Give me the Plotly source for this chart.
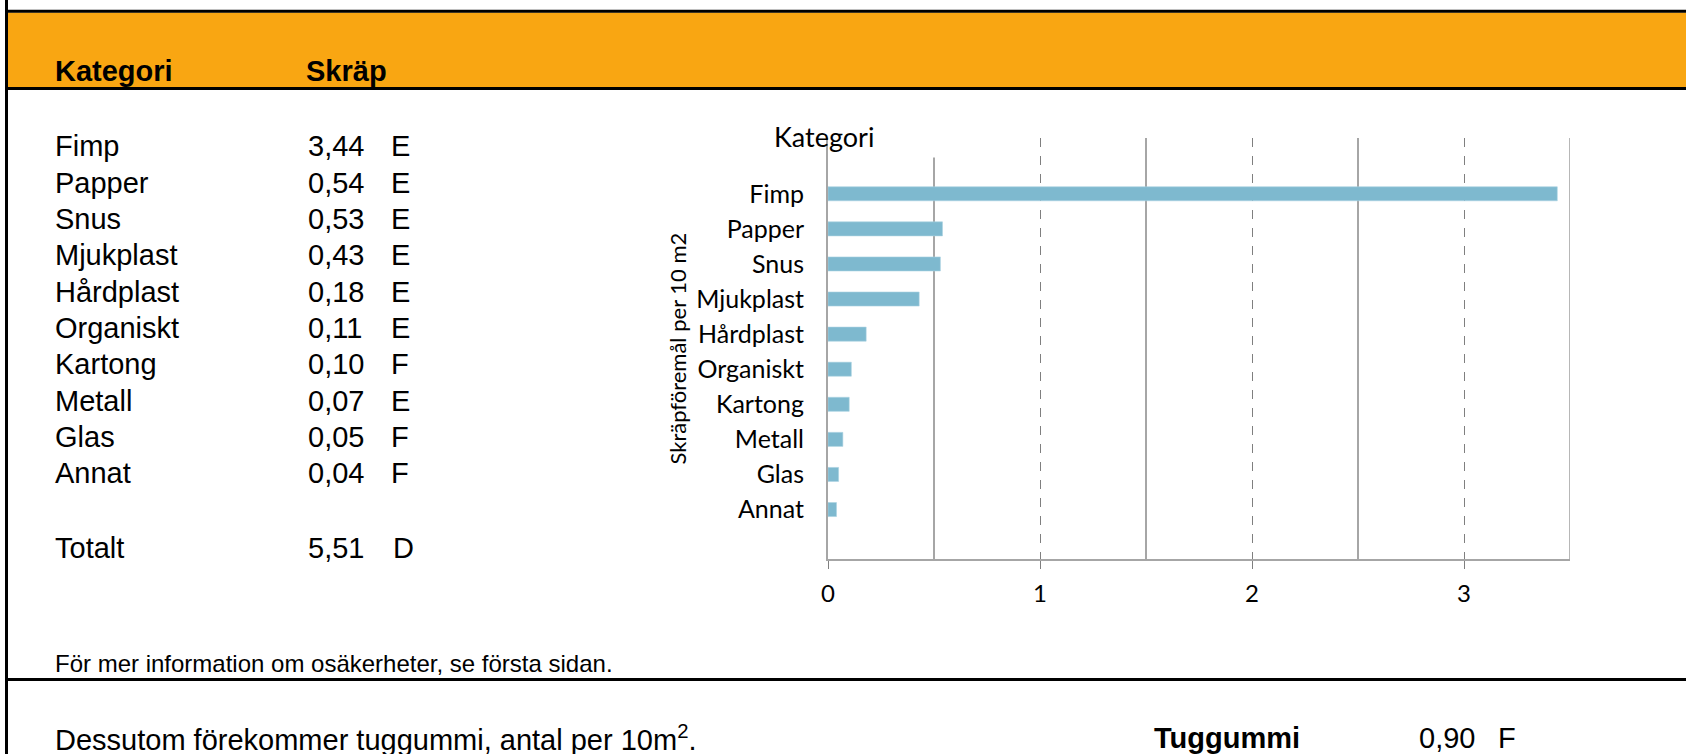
import plotly.graph_objects as go

# ---- data ----
categories = ["Fimp", "Papper", "Snus", "Mjukplast", "Hårdplast", "Organiskt",
              "Kartong", "Metall", "Glas", "Annat"]
values = [3.44, 0.54, 0.53, 0.43, 0.18, 0.11, 0.10, 0.07, 0.05, 0.04]
grades = ["E", "E", "E", "E", "E", "E", "F", "E", "F", "F"]
total_label = "Totalt"
total_value = 5.51
total_grade = "D"
gum_label = "Tuggummi"
gum_value = 0.90
gum_grade = "F"
x_ticks = [0, 1, 2, 3]
minor_ticks = [0.5, 1.5, 2.5, 3.5]

header_cat = "Kategori"
header_val = "Skräp"
chart_title = "Kategori"
y_title = "Skräpföremål per 10 m2"
footnote = "För mer information om osäkerheter, se första sidan."
gum_text = "Dessutom förekommer tuggummi, antal per 10m<sup>2</sup>."


def fmt(v):
    return f"{v:.2f}".replace(".", ",")


# ---- geometry (pixels) ----
W, H = 1686, 754
L, R, T, B = 828, 1570, 138, 559


def px(x):
    return (x - L) / (R - L)


def py(y):
    return (B - y) / (B - T)


ARIAL = "Liberation Sans, Arial, sans-serif"
CHART_FONT = "Lato, Carlito, Calibri, sans-serif"
GRAY = "#A6A6A6"
DGRAY = "#7F7F7F"
ORANGE = "#F9A612"
BAR = "#7EB9CF"

fig = go.Figure()
fig.add_trace(go.Bar(
    y=categories, x=values, orientation="h", width=0.4,
    marker=dict(color=BAR, line=dict(color="#A9D2E0", width=0.6)),
    hoverinfo="x+y",
))

fig.update_layout(
    width=W, height=H, autosize=False,
    margin=dict(l=L, r=W - R, t=T, b=H - B, pad=0),
    paper_bgcolor="white", plot_bgcolor="white",
    showlegend=False,
    font=dict(family=CHART_FONT, color="#000000", size=24),
    bargap=0.6,
)

fig.update_xaxes(
    range=[0, 3.5], tickmode="array", tickvals=x_ticks,
    ticktext=[str(v) for v in x_ticks],
    showgrid=True, gridcolor=DGRAY, griddash="dash", gridwidth=1.3,
    showline=True, linecolor=GRAY, linewidth=2,
    ticks="outside", ticklen=8, tickcolor=DGRAY, tickwidth=1.3,
    tickfont=dict(family=CHART_FONT, size=24, color="#000000"),
    ticklabelstandoff=4,
    zeroline=False,
    minor=dict(tickmode="array", tickvals=minor_ticks, showgrid=True,
               gridcolor=GRAY, gridwidth=1.6, griddash="solid", ticks=""),
)
fig.update_yaxes(
    type="category", categoryorder="array", categoryarray=categories,
    range=[10.41, -1.59],
    showgrid=False, showline=True, linecolor=GRAY, linewidth=2,
    ticks="", tickfont=dict(family=CHART_FONT, size=25, color="#000000"),
    ticklabelstandoff=17,
    zeroline=False,
)

shapes = []
# gridline at the right end of the value axis (range edge)
shapes.append(dict(type="line", xref="x", yref="paper",
                   x0=minor_ticks[-1], x1=minor_ticks[-1], y0=0, y1=1,
                   line=dict(color=GRAY, width=1.6), layer="below"))
# left border
shapes.append(dict(type="line", xref="paper", yref="paper",
                   x0=px(6.5), x1=px(6.5), y0=py(0), y1=py(H),
                   line=dict(color="black", width=3)))
# orange header band
shapes.append(dict(type="rect", xref="paper", yref="paper",
                   x0=px(8), x1=px(W), y0=py(12.5), y1=py(87.5),
                   fillcolor=ORANGE, line=dict(width=0), layer="below"))
# horizontal rules
for yy in (11.3, 88.5, 679.5):
    shapes.append(dict(type="line", xref="paper", yref="paper",
                       x0=px(5), x1=px(W), y0=py(yy), y1=py(yy),
                       line=dict(color="black", width=3)))
# white mask behind the chart title
shapes.append(dict(type="rect", xref="x", yref="paper",
                   x0=-0.35, x1=0.8, y0=py(157.5), y1=py(128),
                   fillcolor="white", line=dict(width=0), layer="above"))

ann = []


def text(x, y, s, size=29, bold=False, anchor="left", family=ARIAL, angle=0):
    ann.append(dict(xref="paper", yref="paper", x=px(x), y=py(y),
                    text=f"<b>{s}</b>" if bold else s, showarrow=False,
                    xanchor=anchor, yanchor="middle", textangle=angle,
                    font=dict(family=family, size=size, color="#000000")))


text(53, 71, header_cat, bold=True)
text(304, 71, header_val, bold=True)

row0, dy = 146.5, 36.3
for i, (c, v, g) in enumerate(zip(categories, values, grades)):
    yy = row0 + dy * i
    text(53, yy, c)
    text(306, yy, fmt(v))
    text(389, yy, g)
yt = 547.5
text(53, yt, total_label)
text(306, yt, fmt(total_value))
text(391, yt, total_grade)

text(53, 663, footnote, size=24)
text(53, 738, gum_text)
text(1152, 738, gum_label, bold=True)
text(1417, 738, fmt(gum_value))
text(1496, 738, gum_grade)

# chart titles
text(824, 136, chart_title, size=27, anchor="center", family=CHART_FONT)
text(677, 348.5, y_title, size=22, anchor="center", family=CHART_FONT, angle=-90)

fig.update_layout(shapes=shapes, annotations=ann)
fig.write_html("out.html", config={"displayModeBar": False},
               post_script="document.body.style.margin='0';")
